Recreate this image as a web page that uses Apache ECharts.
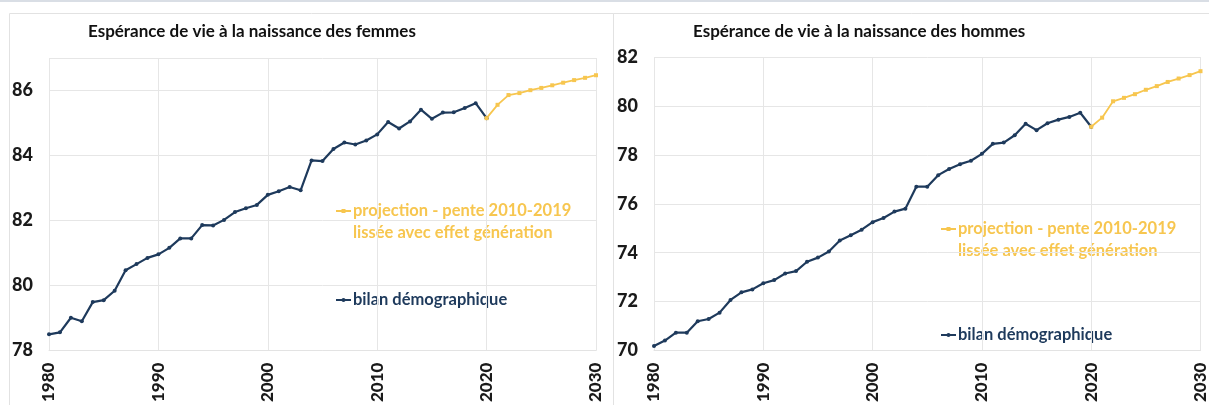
<!DOCTYPE html>
<html>
<head>
<meta charset="utf-8">
<script src="https://cdn.jsdelivr.net/npm/echarts@6/dist/echarts.min.js"></script>
<style>
  html, body { margin: 0; padding: 0; background: #fff; }
  #chart { width: 1209px; height: 405px; }
</style>
</head>
<body>
<div id="chart"></div>
<script>
// années observées (bilan) et projetées
var yearsBilan = [1980, 1981, 1982, 1983, 1984, 1985, 1986, 1987, 1988, 1989,
                  1990, 1991, 1992, 1993, 1994, 1995, 1996, 1997, 1998, 1999,
                  2000, 2001, 2002, 2003, 2004, 2005, 2006, 2007, 2008, 2009,
                  2010, 2011, 2012, 2013, 2014, 2015, 2016, 2017, 2018, 2019, 2020];
var yearsProj = [2020, 2021, 2022, 2023, 2024, 2025, 2026, 2027, 2028, 2029, 2030];

// femmes
var femmesBilan = [78.50, 78.56, 79.01, 78.90, 79.49, 79.55, 79.84, 80.47, 80.66, 80.85,
                   80.96, 81.16, 81.45, 81.45, 81.86, 81.85, 82.02, 82.26, 82.38, 82.48,
                   82.79, 82.90, 83.03, 82.93, 83.85, 83.83, 84.20, 84.40, 84.34, 84.46,
                   84.65, 85.03, 84.83, 85.05, 85.41, 85.13, 85.32, 85.33, 85.46, 85.61, 85.15];
var femmesProj = [85.15, 85.56, 85.86, 85.92, 86.01, 86.08, 86.16, 86.24, 86.32, 86.39, 86.47];

// hommes
var hommesBilan = [70.19, 70.41, 70.73, 70.73, 71.20, 71.29, 71.55, 72.07, 72.38, 72.50,
                   72.75, 72.88, 73.15, 73.25, 73.63, 73.80, 74.05, 74.50, 74.71, 74.94,
                   75.25, 75.42, 75.68, 75.80, 76.70, 76.70, 77.17, 77.42, 77.62, 77.76,
                   78.04, 78.45, 78.50, 78.80, 79.27, 79.01, 79.29, 79.44, 79.55, 79.72, 79.15];
var hommesProj = [79.15, 79.52, 80.19, 80.33, 80.48, 80.66, 80.81, 80.98, 81.12, 81.26, 81.42];

var titres = ['Espérance de vie à la naissance des femmes', 'Espérance de vie à la naissance des hommes'];
var nomBilan = 'bilan démographique';
var nomProj = 'projection - pente 2010-2019';
var nomProj2 = 'lissée avec effet génération';

var NAVY = '#1e3a5c';
var JAUNE = '#f7c64f';
var FONT = 'Lato, "Liberation Sans", sans-serif';

function paires (xs, ys) {
  return xs.map(function (x, i) { return [x, ys[i]]; });
}

function xAxe (idx) {
  return {
    type: 'value', gridIndex: idx, min: 1980, max: 2030, interval: 10,
    axisLine: { show: true, lineStyle: { color: '#e3e3e3' } },
    axisTick: { show: false },
    splitLine: { show: true, lineStyle: { color: '#e6e6e6' } },
    axisLabel: { rotate: 90, margin: 12, color: '#1a1a1a', fontWeight: 900,
                 fontSize: 17, fontFamily: FONT,
                 formatter: function (v) { return String(v); } }
  };
}

function yAxe (idx, min, max) {
  return {
    type: 'value', gridIndex: idx, min: min, max: max, interval: 2,
    axisLine: { show: false },
    axisTick: { show: false },
    splitLine: { show: true, lineStyle: { color: '#e6e6e6' } },
    axisLabel: { margin: 16, color: '#1a1a1a', fontWeight: 900, fontSize: 18, fontFamily: FONT,
                 showMaxLabel: max % 2 === 0 }
  };
}

function serieBilan (idx, ys) {
  return {
    name: nomBilan, type: 'line', xAxisIndex: idx, yAxisIndex: idx,
    data: paires(yearsBilan, ys),
    symbol: 'circle', symbolSize: 4,
    lineStyle: { color: NAVY, width: 2.2 },
    itemStyle: { color: NAVY },
    animation: false
  };
}

function serieProj (idx, ys) {
  return {
    name: nomProj, type: 'line', xAxisIndex: idx, yAxisIndex: idx,
    data: paires(yearsProj, ys),
    symbol: 'rect', symbolSize: 4,
    lineStyle: { color: JAUNE, width: 1.8 },
    itemStyle: { color: JAUNE },
    animation: false
  };
}

// légende dessinée à la main (icône ligne + point, texte sur deux lignes)
function legende (x, y, lignes, couleur, carre) {
  var els = [
    { type: 'line', shape: { x1: x, y1: y, x2: x + 15, y2: y }, style: { stroke: couleur, lineWidth: 2 } },
    carre
      ? { type: 'rect', shape: { x: x + 5.5, y: y - 2, width: 4, height: 4 }, style: { fill: couleur } }
      : { type: 'circle', shape: { cx: x + 7.5, cy: y, r: 2 }, style: { fill: couleur } }
  ];
  lignes.forEach(function (t, i) {
    els.push({
      type: 'text', x: x + 17, y: y + i * 22,
      style: { text: t, fill: couleur, font: 'bold 16.5px ' + FONT, textVerticalAlign: 'middle' }
    });
  });
  return els;
}

var graphics = [
  // trait gris en haut
  { type: 'rect', shape: { x: 0, y: 0, width: 1209, height: 2 }, style: { fill: '#d9dee5' } },
  // cadres des deux panneaux
  { type: 'rect', shape: { x: 9.5, y: 13.5, width: 604, height: 400 }, style: { fill: 'none', stroke: '#e2e2e2', lineWidth: 1 } },
  { type: 'rect', shape: { x: 613.5, y: 13.5, width: 604, height: 400 }, style: { fill: 'none', stroke: '#e2e2e2', lineWidth: 1 } },
  { type: 'text', x: 88, y: 32, style: { text: titres[0], fill: '#111', font: 'bold 17px ' + FONT, textVerticalAlign: 'middle' } },
  { type: 'text', x: 693, y: 32, style: { text: titres[1], fill: '#111', font: 'bold 17px ' + FONT, textVerticalAlign: 'middle' } }
];
graphics = graphics
  .concat(legende(336, 211, [nomProj, nomProj2], JAUNE, true))
  .concat(legende(336, 300, [nomBilan], NAVY, false))
  .concat(legende(941, 229, [nomProj, nomProj2], JAUNE, true))
  .concat(legende(941, 335, [nomBilan], NAVY, false));

var myChart = echarts.init(document.getElementById('chart'), null, { renderer: 'canvas' });
myChart.setOption({
  backgroundColor: '#fff',
  animation: false,
  grid: [
    { left: 49, right: 613, top: 58, bottom: 46 },
    { left: 654, right: 8, top: 57, bottom: 46 }
  ],
  xAxis: [xAxe(0), xAxe(1)],
  yAxis: [yAxe(0, 78, 87), yAxe(1, 70, 82)],
  series: [
    serieBilan(0, femmesBilan),
    serieProj(0, femmesProj),
    serieBilan(1, hommesBilan),
    serieProj(1, hommesProj)
  ],
  graphic: graphics
});
</script>
</body>
</html>
